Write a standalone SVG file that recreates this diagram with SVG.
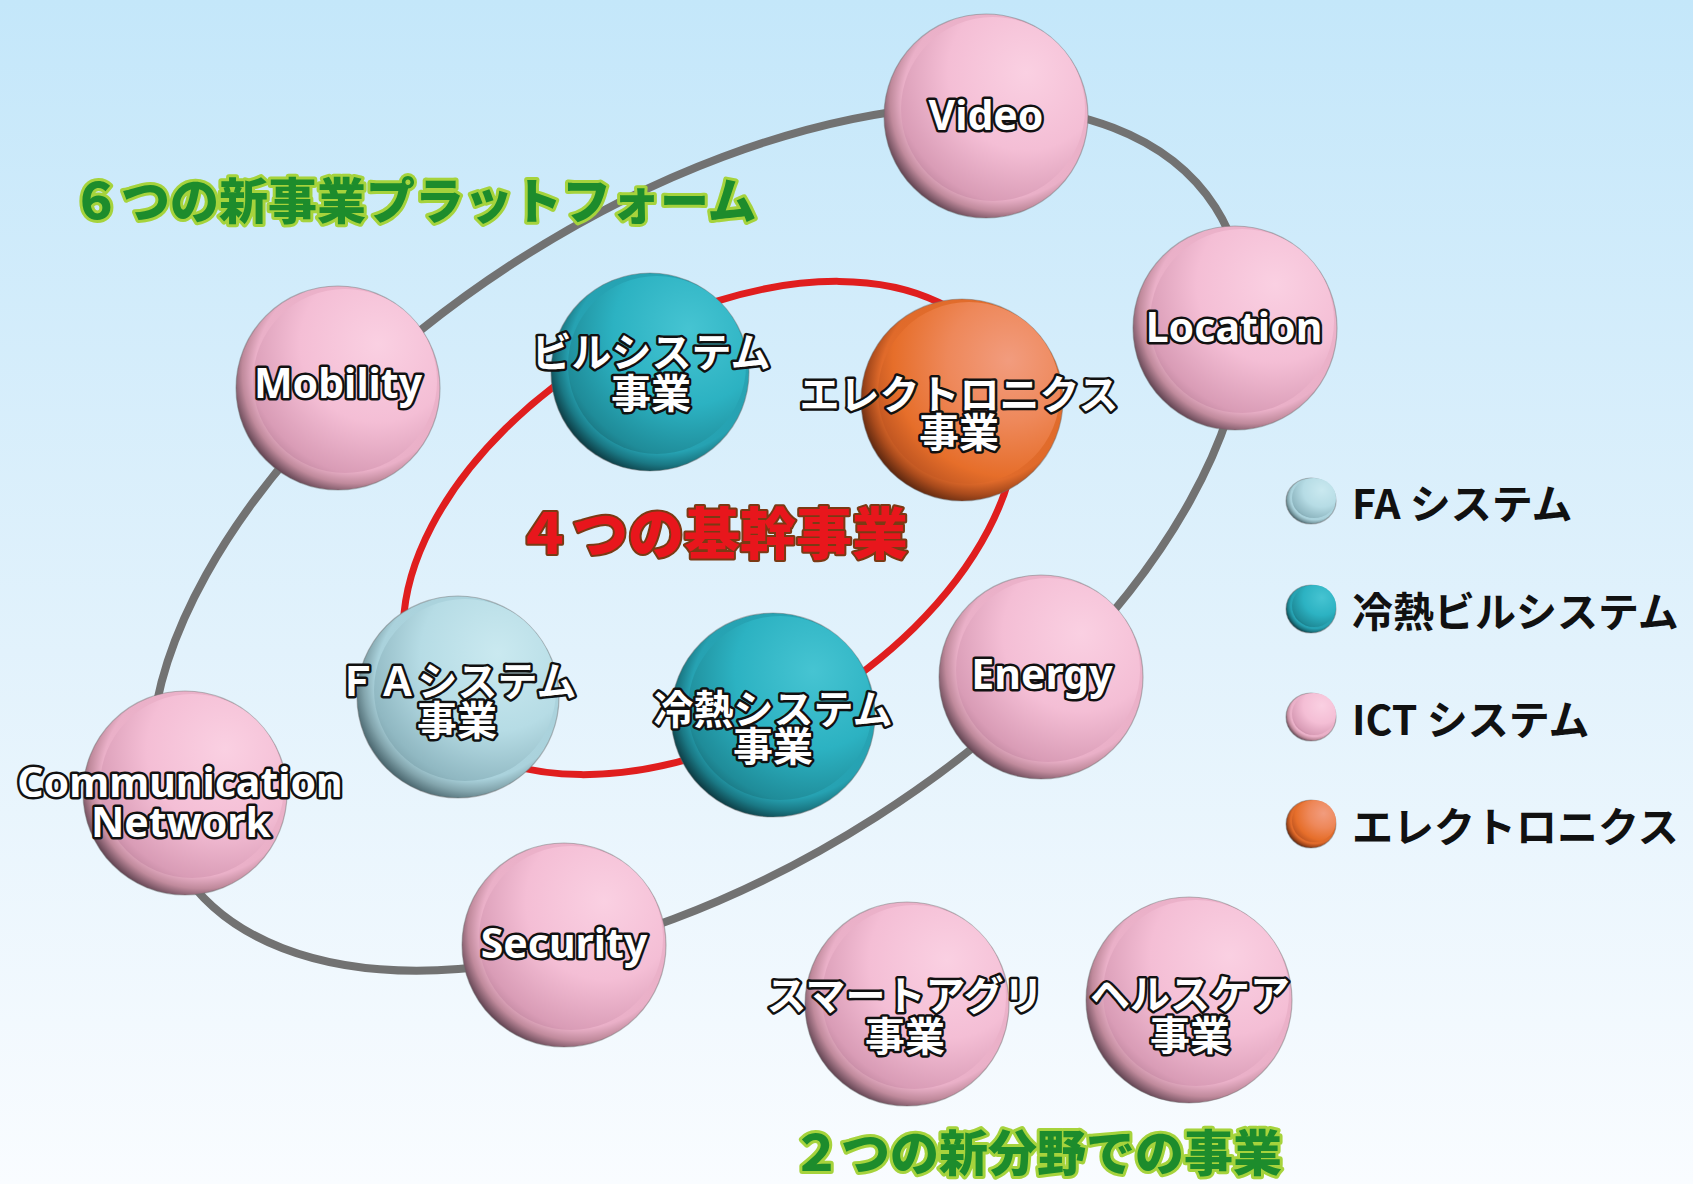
<svg xmlns="http://www.w3.org/2000/svg" width="1693" height="1184" viewBox="0 0 1693 1184">
<defs>
<linearGradient id="bg" x1="0" y1="0" x2="0" y2="1">
<stop offset="0" stop-color="#c4e7fa"/>
<stop offset="0.55" stop-color="#e2f2fc"/>
<stop offset="1" stop-color="#f9fcff"/>
</linearGradient>
<radialGradient id="pinkO" cx="0.58" cy="0.42" r="0.61">
<stop offset="0" stop-color="#f3bcd3"/>
<stop offset="0.8" stop-color="#eab0c8"/>
<stop offset="0.9" stop-color="#c08a9c"/>
<stop offset="1" stop-color="#644654"/>
</radialGradient>
<radialGradient id="pinkI" cx="0.68" cy="0.3" r="0.85">
<stop offset="0" stop-color="#fad0e2"/>
<stop offset="0.5" stop-color="#f4bed5"/>
<stop offset="0.85" stop-color="#d99cb6"/>
<stop offset="1" stop-color="#b27a92"/>
</radialGradient>
<radialGradient id="tealO" cx="0.58" cy="0.42" r="0.61">
<stop offset="0" stop-color="#2aaebe"/>
<stop offset="0.8" stop-color="#26a2b2"/>
<stop offset="0.9" stop-color="#1a7884"/>
<stop offset="1" stop-color="#0d3c44"/>
</radialGradient>
<radialGradient id="tealI" cx="0.68" cy="0.3" r="0.85">
<stop offset="0" stop-color="#46c4d2"/>
<stop offset="0.5" stop-color="#2cb2c2"/>
<stop offset="0.85" stop-color="#1f8c99"/>
<stop offset="1" stop-color="#16626c"/>
</radialGradient>
<radialGradient id="faO" cx="0.58" cy="0.42" r="0.61">
<stop offset="0" stop-color="#b4dae3"/>
<stop offset="0.8" stop-color="#aad2dc"/>
<stop offset="0.9" stop-color="#82a4ac"/>
<stop offset="1" stop-color="#4a666e"/>
</radialGradient>
<radialGradient id="faI" cx="0.68" cy="0.3" r="0.85">
<stop offset="0" stop-color="#cae9f0"/>
<stop offset="0.5" stop-color="#b6dce5"/>
<stop offset="0.85" stop-color="#90b8c2"/>
<stop offset="1" stop-color="#769aa3"/>
</radialGradient>
<radialGradient id="orO" cx="0.58" cy="0.42" r="0.61">
<stop offset="0" stop-color="#e87838"/>
<stop offset="0.8" stop-color="#e06a2a"/>
<stop offset="0.9" stop-color="#a84a1c"/>
<stop offset="1" stop-color="#5e2810"/>
</radialGradient>
<radialGradient id="orI" cx="0.72" cy="0.32" r="0.85">
<stop offset="0" stop-color="#f29c7e"/>
<stop offset="0.4" stop-color="#ee885a"/>
<stop offset="0.75" stop-color="#e66e2a"/>
<stop offset="1" stop-color="#b04c1e"/>
</radialGradient>
<style>
.sph{stroke:rgba(110,110,110,0.45);stroke-width:1.2}
.ring{fill:none}
.lbl{font-family:"Noto Sans","Noto Sans CJK JP",sans-serif;font-weight:700;font-size:41px;fill:#fff;stroke:#111;stroke-width:5;paint-order:stroke;stroke-linejoin:round;text-anchor:middle;dominant-baseline:central}
.jl{font-family:"Noto Sans CJK JP",sans-serif;font-size:40px}
.tg{font-family:"Noto Sans CJK JP",sans-serif;font-weight:900;font-size:49px;fill:#1d8c2c;stroke:#a6d33c;stroke-width:6;paint-order:stroke;stroke-linejoin:round;dominant-baseline:central}
.tr{font-family:"Noto Sans CJK JP",sans-serif;font-weight:900;font-size:56px;fill:#e8161c;stroke:#7a3a14;stroke-width:4;paint-order:stroke;stroke-linejoin:round;dominant-baseline:central;text-anchor:middle}
.leg{font-family:"Noto Sans CJK JP",sans-serif;font-weight:700;font-size:41px;fill:#111;dominant-baseline:central}
</style>
</defs>
<rect width="1693" height="1184" fill="url(#bg)"/>

<g id="connectors">
<ellipse class="ring" cx="698" cy="538" rx="614" ry="331" transform="rotate(-32.6 698 538)" stroke="#727272" stroke-width="8"/>
<ellipse class="ring" cx="710" cy="528" rx="336" ry="205" transform="rotate(-31 710 528)" stroke="#e01e1e" stroke-width="7"/>
</g>

<g id="title-platform"><text class="tg" x="72" y="197">６つの新事業プラットフォーム</text></g>
<g id="title-core"><text class="tr" x="712" y="529">４つの基幹事業</text></g>
<g id="title-new"><text class="tg" x="1037" y="1149" font-size="48" text-anchor="middle">２つの新分野での事業</text></g>

<g id="node-video">
<circle class="sph" cx="986" cy="116" r="102" fill="url(#pinkO)"/>
<circle cx="993" cy="109" r="92" fill="url(#pinkI)"/>
<text class="lbl" x="986" y="114">Video</text>
</g>
<g id="node-location">
<circle class="sph" cx="1235" cy="328" r="102" fill="url(#pinkO)"/>
<circle cx="1242" cy="321" r="92" fill="url(#pinkI)"/>
<text class="lbl" x="1234" y="326">Location</text>
</g>
<g id="node-mobility">
<circle class="sph" cx="338" cy="388" r="102" fill="url(#pinkO)"/>
<circle cx="345" cy="381" r="92" fill="url(#pinkI)"/>
<text class="lbl" x="338" y="382">Mobility</text>
</g>
<g id="node-building">
<circle class="sph" cx="650" cy="372" r="99" fill="url(#tealO)"/>
<circle cx="657" cy="365" r="89" fill="url(#tealI)"/>
<text class="lbl jl" x="651" y="350"><tspan x="651" y="350">ビルシステム</tspan><tspan x="651" y="391">事業</tspan></text>
</g>
<g id="node-electronics">
<circle class="sph" cx="962" cy="400" r="101" fill="url(#orO)"/>
<circle cx="969" cy="393" r="91" fill="url(#orI)"/>
<text class="lbl jl" x="959" y="392"><tspan x="959" y="392">エレクトロニクス</tspan><tspan x="959" y="430">事業</tspan></text>
</g>
<g id="node-fa">
<circle class="sph" cx="458" cy="697" r="101" fill="url(#faO)"/>
<circle cx="465" cy="690" r="91" fill="url(#faI)"/>
<text class="lbl jl" x="457" y="679"><tspan x="457" y="679">ＦＡシステム</tspan><tspan x="457" y="718">事業</tspan></text>
</g>
<g id="node-reinetsu">
<circle class="sph" cx="773" cy="715" r="102" fill="url(#tealO)"/>
<circle cx="780" cy="708" r="92" fill="url(#tealI)"/>
<text class="lbl jl" x="773" y="707"><tspan x="773" y="707">冷熱システム</tspan><tspan x="773" y="744">事業</tspan></text>
</g>
<g id="node-energy">
<circle class="sph" cx="1041" cy="677" r="102" fill="url(#pinkO)"/>
<circle cx="1048" cy="670" r="92" fill="url(#pinkI)"/>
<text class="lbl" x="1042" y="673">Energy</text>
</g>
<g id="node-communication">
<circle class="sph" cx="185" cy="793" r="102" fill="url(#pinkO)"/>
<circle cx="192" cy="786" r="92" fill="url(#pinkI)"/>
<text class="lbl" x="180" y="781"><tspan x="180" y="781">Communication</tspan><tspan x="181" y="821">Network</tspan></text>
</g>
<g id="node-security">
<circle class="sph" cx="564" cy="945" r="102" fill="url(#pinkO)"/>
<circle cx="571" cy="938" r="92" fill="url(#pinkI)"/>
<text class="lbl" x="564" y="942">Security</text>
</g>
<g id="node-smartagri">
<circle class="sph" cx="907" cy="1004" r="102" fill="url(#pinkO)"/>
<circle cx="914" cy="997" r="92" fill="url(#pinkI)"/>
<text class="lbl jl" x="905" y="993"><tspan x="905" y="993">スマートアグリ</tspan><tspan x="905" y="1034">事業</tspan></text>
</g>
<g id="node-healthcare">
<circle class="sph" cx="1189" cy="1000" r="103" fill="url(#pinkO)"/>
<circle cx="1196" cy="993" r="93" fill="url(#pinkI)"/>
<text class="lbl jl" x="1190" y="992"><tspan x="1190" y="992">ヘルスケア</tspan><tspan x="1190" y="1033">事業</tspan></text>
</g>

<g id="legend">
<g id="legend-fa">
<ellipse class="sph" cx="1311" cy="501" rx="25" ry="23" fill="url(#faO)"/>
<ellipse cx="1314" cy="498" rx="22" ry="20" fill="url(#faI)"/>
<text class="leg" x="1352" y="501">FA システム</text>
</g>
<g id="legend-reinetsu">
<ellipse class="sph" cx="1311" cy="609" rx="25" ry="24" fill="url(#tealO)"/>
<ellipse cx="1314" cy="606" rx="22" ry="21" fill="url(#tealI)"/>
<text class="leg" x="1352" y="609">冷熱ビルシステム</text>
</g>
<g id="legend-ict">
<ellipse class="sph" cx="1311" cy="717" rx="25" ry="24" fill="url(#pinkO)"/>
<ellipse cx="1314" cy="714" rx="22" ry="21" fill="url(#pinkI)"/>
<text class="leg" x="1352" y="717">ICT システム</text>
</g>
<g id="legend-electronics">
<ellipse class="sph" cx="1311" cy="824" rx="25" ry="24" fill="url(#orO)"/>
<ellipse cx="1314" cy="821" rx="22" ry="21" fill="url(#orI)"/>
<text class="leg" x="1352" y="824">エレクトロニクス</text>
</g>
</g>
</svg>
